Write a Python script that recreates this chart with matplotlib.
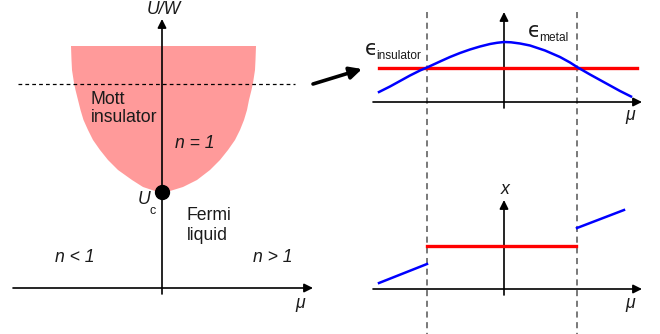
import matplotlib.pyplot as plt
from matplotlib.patches import Polygon

plt.rcParams['font.family'] = ['Liberation Sans', 'DejaVu Sans']

# Schematic drawn in pixel coordinates of the original picture (y grows downwards)

# Mott insulator lobe: boundary
mott_y = [46, 60, 70, 83, 90, 100, 110, 120, 130, 140, 150, 160, 170, 180, 187, 191, 192]
mott_left_x = [71, 71.5, 72, 74, 75.5, 78, 80.5, 83.5, 88, 93, 100, 108, 118, 132, 143, 155, 162]
mott_right_x = [256, 255.5, 255, 253, 251.5, 249, 247, 244, 240, 235, 228, 220, 210, 197, 183, 170, 162]
u_c = (162, 192)
cut_y = 84  # the dashed U/W cut

# top right: band energies
band_mu = [379, 390, 400, 410, 420, 427, 440, 450, 460, 470, 480, 490, 497, 504,
           511, 520, 530, 545, 560, 570, 577, 590, 600, 610, 620, 631]
band_eps = [92, 86.5, 81, 75.5, 70.5, 67.5, 61.5, 57, 53, 49.5, 46.5, 44, 42.8, 42,
            42.3, 43.5, 45.5, 50.5, 57, 62.5, 67, 74.5, 80, 85.5, 91, 96.5]
ins_mu = [379, 637]
ins_eps = [68, 68]

# bottom right: x(mu)
x_left_mu = [379, 427]
x_left = [283, 264]
x_mid_mu = [427, 576]
x_mid = [246, 246]
x_right_mu = [577, 624]
x_right = [228, 210]

# transitions (dashed verticals)
mu_transitions = [427, 577]

fig = plt.figure(figsize=(6.6, 3.34), dpi=100)
ax = fig.add_axes([0, 0, 1, 1])
ax.set_xlim(0, 660)
ax.set_ylim(334, 0)
ax.axis('off')


def axis_arrow(start, tip):
    ax.annotate('', xy=tip, xytext=start,
                arrowprops=dict(arrowstyle='-|>', lw=1.2, color='black',
                                mutation_scale=13, shrinkA=0, shrinkB=0))


# ---- left panel: phase diagram ----
poly = list(zip(mott_left_x, mott_y)) + list(zip(mott_right_x[::-1], mott_y[::-1]))
ax.add_patch(Polygon(poly, closed=True, facecolor='#ff9a9a', edgecolor='none', zorder=1))
ax.plot([18, 295], [cut_y, cut_y], color='black', lw=0.9, ls=(0, (3, 2.5)), zorder=2)
axis_arrow((13, 288), (313, 288))
axis_arrow((162, 294), (162, 19))
ax.plot(*u_c, 'o', color='black', ms=10, zorder=5)

tkw = dict(fontsize=12.7, color='#1a1a1a', va='center')
ax.text(91, 99, 'Mott', ha='left', **tkw)
ax.text(91, 118, 'insulator', ha='left', **tkw)
ax.text(187, 216, 'Fermi', ha='left', **tkw)
ax.text(187, 236, 'liquid', ha='left', **tkw)
ax.text(195, 143, 'n = 1', ha='center', style='italic', **tkw)
ax.text(75, 257, 'n < 1', ha='center', style='italic', **tkw)
ax.text(273, 257, 'n > 1', ha='center', style='italic', **tkw)
ax.text(164, 9, 'U/W', ha='center', style='italic', **tkw)
ax.text(300, 303, 'μ', ha='center', style='italic', **tkw)
ax.text(144, 199, 'U', ha='center', style='italic', **tkw)
ax.text(153, 211, 'c', ha='center', fontsize=9, color='#1a1a1a', va='center')

# arrow to the right panels
ax.annotate('', xy=(362, 69), xytext=(313, 84),
            arrowprops=dict(arrowstyle='-|>', lw=2.6, color='black',
                            mutation_scale=18, shrinkA=0, shrinkB=0))

# ---- dashed transition lines ----
for m in mu_transitions:
    ax.plot([m, m], [12, 334], color='#555555', lw=1.1, ls=(0, (4, 3)), zorder=2)

# ---- top right: energies ----
axis_arrow((373, 102), (642, 102))
axis_arrow((504, 108), (504, 12))
ax.plot(ins_mu, ins_eps, color='red', lw=2.4, zorder=3)
ax.plot(band_mu, band_eps, color='blue', lw=1.8, zorder=4, solid_joinstyle='round')
ax.text(371, 49, 'ϵ', family='DejaVu Sans', fontsize=15, ha='center', va='center', color='#1a1a1a')
ax.text(376, 56, 'insulator', fontsize=8.6, ha='left', va='center', color='#1a1a1a')
ax.text(534, 31, 'ϵ', family='DejaVu Sans', fontsize=15, ha='center', va='center', color='#1a1a1a')
ax.text(539, 38, 'metal', fontsize=8.6, ha='left', va='center', color='#1a1a1a')
ax.text(630, 116, 'μ', ha='center', style='italic', **tkw)

# ---- bottom right: x ----
axis_arrow((373, 289), (642, 289))
axis_arrow((504, 295), (504, 200))
ax.plot(x_mid_mu, x_mid, color='red', lw=2.4, zorder=3)
ax.plot(x_left_mu, x_left, color='blue', lw=1.8, zorder=4)
ax.plot(x_right_mu, x_right, color='blue', lw=1.8, zorder=4)
ax.text(505, 190, 'x', ha='center', style='italic', **tkw)
ax.text(630, 303, 'μ', ha='center', style='italic', **tkw)

fig.savefig('out.png', dpi=100)
